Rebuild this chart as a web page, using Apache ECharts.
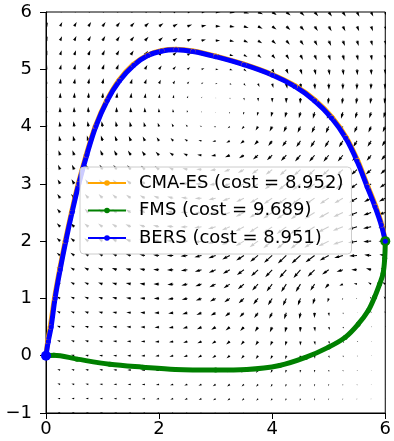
<!DOCTYPE html>
<html>
<head>
<meta charset="utf-8">
<script src="https://cdn.jsdelivr.net/npm/echarts@6/dist/echarts.min.js"></script>
<style>
  html, body { margin: 0; padding: 0; background: #fff; }
  #chart { width: 394px; height: 441px; }
</style>
</head>
<body>
<div id="chart"></div>
<script>
// ---- axis ticks ----
const xTicks = [0, 2, 4, 6];
const yTicks = [-1, 0, 1, 2, 3, 4, 5, 6];

// ---- legend labels ----
const seriesNames = ['CMA-ES (cost = 8.952)', 'FMS (cost = 9.689)', 'BERS (cost = 8.951)'];
const seriesColors = ['#ffa500', '#008000', '#0000ff'];

// ---- trajectories (x, y) ----
const cmaesX = [0, 0.03, 0.075, 0.15, 0.24, 0.34, 0.45, 0.57, 0.71, 0.87, 1.07, 1.29, 1.54, 1.80, 2.05, 2.30, 2.60, 3.00, 3.50, 4.00, 4.41, 4.76, 5.06, 5.31, 5.51, 5.69, 5.83, 5.94, 6.0];
const cmaesY = [0, 0.25, 0.50, 1.00, 1.50, 2.00, 2.50, 3.00, 3.50, 4.00, 4.45, 4.81, 5.08, 5.25, 5.33, 5.35, 5.32, 5.23, 5.09, 4.91, 4.71, 4.46, 4.16, 3.81, 3.41, 2.96, 2.61, 2.28, 2.0];

const fmsX = [0, 0.14, 0.55, 1.13, 1.71, 2.29, 3.00, 3.55, 4.13, 4.59, 5.00, 5.29, 5.52, 5.70, 5.81, 5.90, 5.96, 5.99, 6.0];
const fmsY = [0, 0.01, -0.06, -0.15, -0.20, -0.24, -0.25, -0.24, -0.17, -0.03, 0.15, 0.32, 0.55, 0.79, 1.02, 1.25, 1.43, 1.70, 2.0];

const bersX = [0, 0.04, 0.09, 0.16, 0.25, 0.35, 0.46, 0.58, 0.72, 0.88, 1.08, 1.30, 1.55, 1.80, 2.05, 2.30, 2.60, 3.00, 3.50, 4.00, 4.40, 4.75, 5.05, 5.30, 5.50, 5.68, 5.82, 5.93, 6.0];
const bersY = [0, 0.25, 0.50, 1.00, 1.50, 2.00, 2.50, 3.00, 3.50, 4.00, 4.45, 4.80, 5.07, 5.24, 5.32, 5.34, 5.31, 5.22, 5.08, 4.90, 4.70, 4.45, 4.15, 3.80, 3.40, 2.95, 2.60, 2.28, 2.0];

// ---- flow field: two counter-rotating Lamb–Oseen vortices ----
const vortexX = [3.2, 5.1];
const vortexY = [4.05, 1.35];
const vortexStrength = [-1.0, 0.35];   // negative = clockwise
const vortexCore = [2.0, 0.8];
const arrowScale = 21;                 // pixels per unit speed

// quiver sampling grid
const gridStep = 0.25;
const gridXmin = 0, gridXmax = 6, gridYmin = -1, gridYmax = 6;

function flowAt(x, y) {
  let u = 0, v = 0;
  for (let k = 0; k < vortexX.length; k++) {
    const dx = x - vortexX[k], dy = y - vortexY[k];
    const r2 = dx * dx + dy * dy;
    if (r2 < 1e-12) continue;
    const c2 = vortexCore[k] * vortexCore[k];
    const f = vortexStrength[k] * (1 - Math.exp(-r2 / c2)) / r2;
    u += -dy * f;
    v += dx * f;
  }
  return [u, v];
}

const quiverData = [];
for (let i = 0; i <= Math.round((gridXmax - gridXmin) / gridStep); i++) {
  for (let j = 0; j <= Math.round((gridYmax - gridYmin) / gridStep); j++) {
    const x = gridXmin + i * gridStep, y = gridYmin + j * gridStep;
    const [u, v] = flowAt(x, y);
    quiverData.push([x, y, u, v]);
  }
}

function pairs(xs, ys) { return xs.map((x, i) => [x, ys[i]]); }

// arrow glyph in shaft-width units (tail at origin, pointing +x)
const shaftWidth = 1.05;
function renderArrow(params, api) {
  const p = api.coord([api.value(0), api.value(1)]);
  const u = api.value(2), v = api.value(3);
  const L = Math.hypot(u, v) * arrowScale / shaftWidth;
  const ang = Math.atan2(-v, u);
  let xs, ys;
  if (L >= 5) {
    xs = [0, L - 4.5, L - 5, L, L - 5, L - 4.5, 0];
    ys = [0.5, 0.5, 1.5, 0, -1.5, -0.5, -0.5];
  } else {
    const s = L / 5;
    xs = [0, 0.5, 0, 5, 0, 0.5, 0].map(a => a * s);
    ys = [0.5, 0.5, 1.5, 0, -1.5, -0.5, -0.5].map(a => a * s);
  }
  const c = Math.cos(ang), sn = Math.sin(ang);
  const pts = xs.map((a, i) => {
    const X = a * shaftWidth, Y = ys[i] * shaftWidth;
    return [p[0] + X * c - Y * sn, p[1] + X * sn + Y * c];
  });
  return { type: 'polygon', shape: { points: pts }, style: { fill: '#000' } };
}

const fmt = v => String(v).replace('-', '\u2212');
const font = 'DejaVu Sans';

const pathSeries = (name, color, xs, ys, bigIndex) => ({
  name: name,
  type: 'line',
  data: pairs(xs, ys),
  smooth: 0.35,
  symbol: 'circle',
  showSymbol: true,
  showAllSymbol: true,
  symbolSize: (val, params) => params.dataIndex === bigIndex ? 10 : 5,
  lineStyle: { color: color, width: 5 },
  itemStyle: { color: color },
  clip: true,
  z: 3
});

const chart = echarts.init(document.getElementById('chart'), null, { renderer: 'canvas' });
chart.setOption({
  animation: false,
  grid: { left: 46, top: 12, width: 344, height: 401, show: true, borderColor: '#000', borderWidth: 1, backgroundColor: 'transparent' },
  xAxis: {
    type: 'value', min: 0, max: 6, interval: 2,
    axisLine: { show: true, onZero: false, lineStyle: { color: '#000', width: 1 } },
    axisTick: { show: true, length: 6, lineStyle: { color: '#000' } },
    axisLabel: { fontSize: 18, fontFamily: font, color: '#000', margin: 7, formatter: fmt },
    splitLine: { show: false }
  },
  yAxis: {
    type: 'value', min: -1, max: 6, interval: 1,
    axisLine: { show: true, onZero: false, lineStyle: { color: '#000', width: 1 } },
    axisTick: { show: true, length: 6, lineStyle: { color: '#000' } },
    axisLabel: { fontSize: 18, fontFamily: font, color: '#000', margin: 14, formatter: fmt },
    splitLine: { show: false }
  },
  legend: {
    orient: 'vertical',
    left: 80, top: 167,
    padding: [6, 8, 6, 7],
    itemGap: 7.5,
    itemWidth: 38, itemHeight: 7,
    backgroundColor: 'rgba(255,255,255,0.8)',
    borderColor: '#cccccc', borderWidth: 1, borderRadius: 4,
    lineStyle: { width: 2 },
    textStyle: { fontSize: 18, fontFamily: font, color: '#000', lineHeight: 20, padding: [0, 0, 0, 8] },
    data: seriesNames
  },
  series: [
    {
      type: 'custom',
      renderItem: renderArrow,
      data: quiverData,
      clip: true,
      silent: true,
      z: 1
    },
    pathSeries(seriesNames[0], seriesColors[0], cmaesX, cmaesY, -1),
    pathSeries(seriesNames[1], seriesColors[1], fmsX, fmsY, fmsX.length - 1),
    pathSeries(seriesNames[2], seriesColors[2], bersX, bersY, 0)
  ]
});
</script>
</body>
</html>
